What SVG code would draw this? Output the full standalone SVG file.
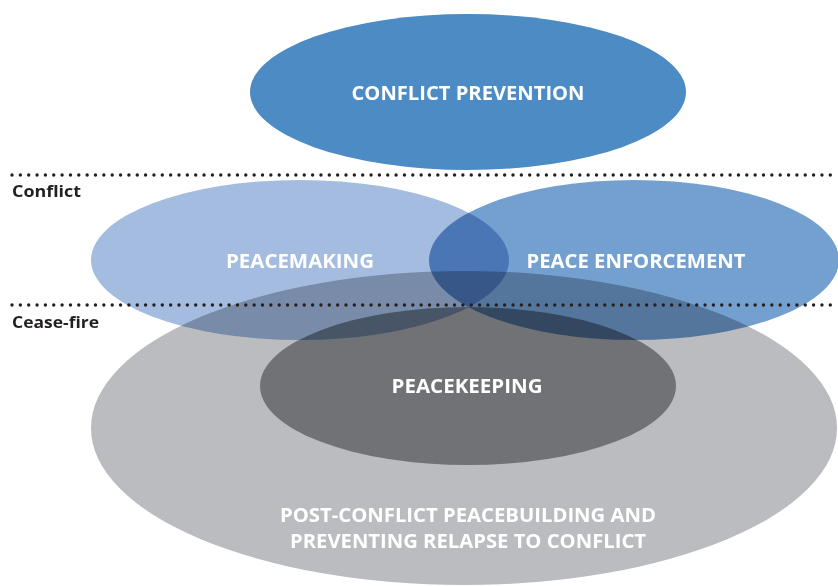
<svg xmlns="http://www.w3.org/2000/svg" width="838" height="586" viewBox="0 0 838 586">
<style>
.e{mix-blend-mode:multiply}
.lbl{font-family:"Open Sans","Liberation Sans",sans-serif;font-weight:700;fill:#ffffff;text-anchor:middle;font-size:20px}
.side{font-family:"Open Sans","Liberation Sans",sans-serif;font-weight:700;fill:#231f20;font-size:16.5px}
.dots{stroke:#231f20;stroke-width:3.4;stroke-linecap:round;stroke-dasharray:0 8.35;fill:none}
</style>
<rect width="838" height="586" fill="#ffffff"/>
<g id="conflict-prevention">
<ellipse cx="468" cy="92" rx="218" ry="78" fill="#4d8bc4"/>
<text class="lbl" x="468" y="100" textLength="233" lengthAdjust="spacingAndGlyphs">CONFLICT PREVENTION</text>
</g>
<g id="post-conflict">
<ellipse class="e" cx="464" cy="428" rx="373" ry="157" fill="#bbbcc0"/>
</g>
<g id="peacemaking">
<ellipse class="e" cx="300" cy="260" rx="209" ry="80" fill="#a3bcdf"/>
</g>
<g id="peace-enforcement">
<ellipse class="e" cx="634" cy="260" rx="205" ry="80" fill="#74a0d0"/>
</g>
<g id="peacekeeping">
<ellipse class="e" cx="468" cy="386" rx="208" ry="79" fill="#989b9c"/>
</g>
<g id="separators">
<line class="dots" x1="12" y1="175" x2="838" y2="175"/>
<line class="dots" x1="12" y1="305" x2="838" y2="305"/>
<text class="side" x="12" y="197" textLength="69" lengthAdjust="spacingAndGlyphs">Conflict</text>
<text class="side" x="12" y="328" textLength="87" lengthAdjust="spacingAndGlyphs">Cease-fire</text>
</g>
<g id="labels">
<text class="lbl" x="300" y="268" textLength="148" lengthAdjust="spacingAndGlyphs">PEACEMAKING</text>
<text class="lbl" x="636" y="268" textLength="219" lengthAdjust="spacingAndGlyphs">PEACE ENFORCEMENT</text>
<text class="lbl" x="467" y="393" textLength="151" lengthAdjust="spacingAndGlyphs">PEACEKEEPING</text>
<text class="lbl" x="468" y="522" textLength="376" lengthAdjust="spacingAndGlyphs">POST-CONFLICT PEACEBUILDING AND</text>
<text class="lbl" x="468" y="548" textLength="356" lengthAdjust="spacingAndGlyphs">PREVENTING RELAPSE TO CONFLICT</text>
</g>
</svg>
